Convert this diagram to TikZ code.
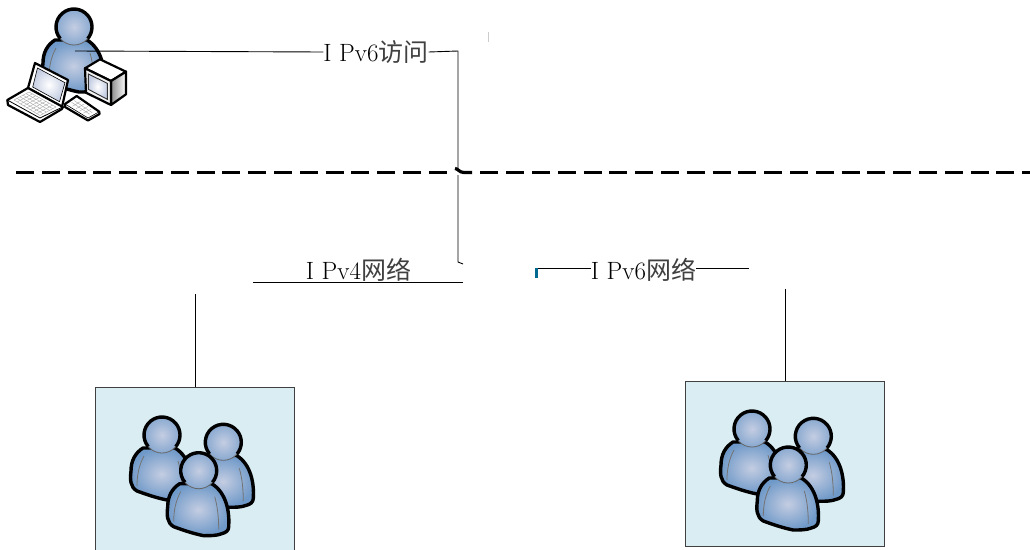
\documentclass[tikz,border=0pt]{standalone}
\usepackage{fontspec}
\newfontfamily\cjk{Noto Sans CJK SC}
\usetikzlibrary{calc}
\definecolor{boxblue}{HTML}{DAEDF3}
\definecolor{skinin}{HTML}{C4CDE2}
\definecolor{skinout}{HTML}{6F99C8}
\definecolor{markteal}{HTML}{00698F}
\tikzset{
	person/.pic={
		\draw[line width=3.4pt,line join=round,inner color=skinin,outer color=skinout]
			(-19,13) .. controls (-27,18) and (-31,26) .. (-31,36)
			.. controls (-32,44) and (-32,52) .. (-25,56)
			.. controls (-14,60) and (-5,63) .. (5,65)
			.. controls (12,65) and (18,65) .. (23,63)
			.. controls (27,62) and (30,60) .. (30,56)
			.. controls (31,42) and (28,22) .. (13,13) -- cycle;
		\draw[black!55,line width=0.8pt] (-18,21) .. controls (-23,30) and (-25,40) .. (-25,51);
		\draw[black!55,line width=0.8pt] (16,26) .. controls (19,36) and (20,48) .. (20,59);
		\shade[inner color=skinin,outer color=skinout!70!skinin] (0,0) circle (18);
		\draw[black!60,line width=0.8pt] (0,0) circle (18);
		\draw[line width=3.4pt] (140:18) arc[start angle=140,end angle=400,radius=18];
	}
}
\begin{document}
\begin{tikzpicture}[x=1pt,y=-1pt]
	% Styles
	\tikzstyle{link}=[draw,black,line width=0.9pt]
	\tikzstyle{netlabel}=[inner sep=0pt,font=\fontsize{25}{25}\selectfont]
	\tikzstyle{lan}=[draw=black!75,fill=boxblue,line width=0.9pt,minimum width=199pt,inner sep=0pt]
	\tikzstyle{kit}=[draw=black,line width=2.2pt,line join=round]

	\clip (0,0) rectangle (1030,549);

	% Boxes for the two networks
	\node[lan,minimum height=180pt] (lanfour) at (194.5,477) {};
	\node[lan,minimum height=165pt] (lansix) at (784.5,463.5) {};

	% Users in the boxes
	\foreach \x/\y in {162/435,223.3/442.3,198.7/470.7,752/429,813.3/436.3,788.3/465}
	\pic at (\x,\y) {person};

	% Labels
	\node[netlabel] (access) at (376,52) {I Pv6{\cjk\color{black!75}访问}};
	\node[netlabel] (netfour) at (358.5,270) {I Pv4{\cjk\color{black!75}网络}};
	\node[netlabel] (netsix) at (643.5,270) {I Pv6{\cjk\color{black!75}网络}};

	% Free ends of the connectors
	\coordinate (userpt) at (75,51);
	\coordinate (turna) at (458,51);
	\coordinate (turnb) at (458,262);
	\coordinate (turnc) at (463,264);
	\coordinate (barl) at (253,282);
	\coordinate (barr) at (463,282);
	\coordinate (stubl) at (538,268);
	\coordinate (stubr) at (749,268);
	\coordinate (dropfour) at (195,294);
	\coordinate (dropsix) at (785,289);
	\coordinate (dashl) at (16,172.5);
	\coordinate (dashr) at (1030,172.5);

	% User with laptop and computer
	\pic at (74,27) {person};
	\draw[kit,fill=white] (85,68.3) -- (100,59.3) -- (126,71.7) -- (111,81) -- cycle;
	\draw[kit,left color=black!45,right color=white] (111,81) -- (126,71.7) -- (126,94.3) -- (111,105) -- cycle;
	\draw[kit,fill=black!5] (85,68.3) -- (111,81) -- (111,105) -- (86,92.7) -- cycle;
	\draw[black!80,line width=0.9pt,inner color=white,outer color=skinin] (88.3,74) -- (107.3,83.3) -- (107.3,99.3) -- (88.3,89.3) -- cycle;
	\draw[kit,fill=white] (35,63) -- (68,80) -- (62,107) -- (28,88) -- cycle;
	\draw[black,line width=0.6pt,inner color=white,outer color=skinin] (37.5,68) -- (65,82.7) -- (59.5,101.7) -- (32.7,87) -- cycle;
	\draw[kit,fill=white] (7.3,100) -- (28,88) -- (63,107) -- (62,109) -- (40,122) -- (8,105) -- cycle;
	\draw[black,line width=0.8pt] (7.3,100) -- (40,118) -- (62.5,107);
	\coordinate (keya) at (14,100);
	\coordinate (keyb) at (29,92);
	\coordinate (keyc) at (56,107);
	\coordinate (keyd) at (40,115.5);
	\foreach \t in {0,0.2,0.4,0.6,0.8,1}
	\draw[black!35,line width=0.4pt] ($(keya)!\t!(keyb)$) -- ($(keyd)!\t!(keyc)$);
	\foreach \t in {0,0.125,0.25,0.375,0.5,0.625,0.75,0.875,1}
	\draw[black!35,line width=0.4pt] ($(keya)!\t!(keyd)$) -- ($(keyb)!\t!(keyc)$);
	\draw[kit,fill=white] (65,104) -- (76.7,96) -- (99.3,111.7) -- (99.5,114) -- (88,120.5) -- (65,107) -- cycle;
	\draw[black,line width=0.6pt] (65,104) -- (88,118) -- (99.3,111.7);
	\coordinate (kba) at (69,104);
	\coordinate (kbb) at (77,99);
	\coordinate (kbc) at (95,111.5);
	\coordinate (kbd) at (87,115.5);
	\foreach \t in {0.33,0.67}
	\draw[black!35,line width=0.4pt] ($(kba)!\t!(kbb)$) -- ($(kbd)!\t!(kbc)$);
	\foreach \t in {0.2,0.4,0.6,0.8}
	\draw[black!35,line width=0.4pt] ($(kba)!\t!(kbd)$) -- ($(kbb)!\t!(kbc)$);

	% Connect nodes
	\path[link] (userpt) -- (access.west);
	\path[link] (access.east) -- (turna) -- (turnb) -- (turnc);
	\path[link] (barl) -- (barr);
	\path[link] (stubl) -- (netsix.west |- stubl);
	\path[link] (netsix.east |- stubr) -- (stubr);
	\path[link] (dropfour) -- (lanfour.north -| dropfour);
	\path[link] (dropsix) -- (lansix.north -| dropsix);

	% Boundary between the networks
	\draw[line width=3.2pt,dash pattern=on 18pt off 7.8pt] (dashl) -- (dashr);
	\fill[white] (450.5,170) rectangle (479,175);
	\draw[line width=3.2pt] (455,168.5) .. controls (458,168.5) and (459,172.5) .. (464,172.5) -- (472,172.5);

	% Small marks
	\fill[markteal] (535,268) rectangle (538,278);
	\fill[black!20] (487.5,32) rectangle (489,42);
\end{tikzpicture}
\end{document}
